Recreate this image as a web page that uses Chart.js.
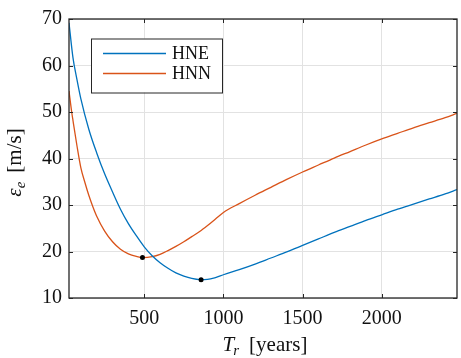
<!DOCTYPE html>
<html>
<head>
<meta charset="utf-8">
<script src="https://cdn.jsdelivr.net/npm/chart.js@4/dist/chart.umd.min.js"></script>
<style>
html,body{margin:0;padding:0;background:#fff;}
#wrap{width:461px;height:358px;}
</style>
</head>
<body>
<div id="wrap"><canvas id="c" width="461" height="358"></canvas></div>
<script>
// ---- data ----
const hneT = [25,50,75,100,150,200,250,300,350,400,450,500,550,600,650,700,750,800,850,900,950,1000,1100,1200,1300,1400,1500,1600,1700,1800,1900,2000,2100,2200,2300,2400,2475];
const hneE = [69.2,61.7,57.0,52.8,46.3,41.2,36.7,32.8,29.1,26.0,23.4,21.0,19.1,17.6,16.4,15.4,14.7,14.2,13.95,14.0,14.4,15.0,16.1,17.3,18.6,19.9,21.3,22.7,24.1,25.4,26.7,27.9,29.1,30.2,31.3,32.4,33.3];
const hnnT = [25,42,50,75,100,125,150,175,200,250,300,350,400,450,490,550,600,650,700,750,800,850,900,950,1000,1100,1200,1300,1400,1500,1600,1700,1800,1900,2000,2100,2200,2300,2400,2475];
const hnnE = [54.5,50.0,48.2,42.8,38.0,34.9,32.1,29.7,27.6,24.4,22.1,20.5,19.5,18.95,18.7,18.9,19.4,20.2,21.1,22.1,23.2,24.3,25.6,27.0,28.4,30.3,32.1,33.8,35.5,37.1,38.6,40.1,41.5,42.9,44.2,45.4,46.6,47.7,48.8,49.7];
const minT = [489, 859];
const minE = [18.7, 13.9];
const xTicks = [500, 1000, 1500, 2000];
const yTicks = [10, 20, 30, 40, 50, 60, 70];
const seriesNames = ['HNE', 'HNN'];

const BLUE = '#0072BD', ORANGE = '#D95319';
const SERIF = '"Liberation Serif", "DejaVu Serif", serif';
Chart.defaults.font.family = SERIF;

const zip = (a, b) => a.map((v, i) => ({x: v, y: b[i]}));

const framePlugin = {
  id: 'frame',
  afterDatasetsDraw(chart) {
    const ctx = chart.ctx, a = chart.chartArea;
    const xs = chart.scales.x, ys = chart.scales.y;
    ctx.save();
    // box
    ctx.strokeStyle = '#262626';
    ctx.lineWidth = 1.3;
    ctx.strokeRect(a.left, a.top, a.right - a.left, a.bottom - a.top);
    // inward ticks
    ctx.lineWidth = 1;
    const tl = 4;
    ctx.beginPath();
    xTicks.forEach(v => {
      const px = Math.round(xs.getPixelForValue(v)) + 0.5;
      ctx.moveTo(px, a.bottom); ctx.lineTo(px, a.bottom - tl);
      ctx.moveTo(px, a.top); ctx.lineTo(px, a.top + tl);
    });
    yTicks.forEach(v => {
      const py = Math.round(ys.getPixelForValue(v)) + 0.5;
      ctx.moveTo(a.left, py); ctx.lineTo(a.left + tl, py);
      ctx.moveTo(a.right, py); ctx.lineTo(a.right - tl, py);
    });
    ctx.stroke();

    // legend
    const lx = 91, ly = 38.5, lw = 131, lh = 54;
    ctx.fillStyle = '#fff';
    ctx.fillRect(lx, ly, lw, lh);
    ctx.strokeStyle = '#262626';
    ctx.lineWidth = 1;
    ctx.strokeRect(lx + 0.5, ly + 0.5, lw, lh);
    const rows = [[BLUE, 53.5], [ORANGE, 73.5]];
    ctx.font = '18px ' + SERIF;
    ctx.textBaseline = 'middle';
    ctx.textAlign = 'left';
    rows.forEach((r, i) => {
      ctx.strokeStyle = r[0];
      ctx.lineWidth = 1.3;
      ctx.beginPath();
      ctx.moveTo(103, r[1]); ctx.lineTo(166, r[1]);
      ctx.stroke();
      ctx.fillStyle = '#111';
      ctx.fillText(seriesNames[i], 172, r[1] + 1);
    });

    // x axis title: T_r [years]
    ctx.fillStyle = '#111';
    ctx.textBaseline = 'alphabetic';
    const cx = (a.left + a.right) / 2 + 2;
    const base = 351;
    const p1 = 'italic 21px ' + SERIF, p2 = 'italic 15px ' + SERIF, p3 = '21px ' + SERIF;
    ctx.font = p1; const w1 = ctx.measureText('T').width;
    ctx.font = p2; const w2 = ctx.measureText('r').width;
    ctx.font = p3; const w3 = ctx.measureText('[years]').width;
    const gap = 9;
    let x0 = cx - (w1 + w2 + gap + w3) / 2;
    ctx.font = p1; ctx.fillText('T', x0, base);
    ctx.font = p2; ctx.fillText('r', x0 + w1 - 1, base + 4);
    ctx.font = p3; ctx.fillText('[years]', x0 + w1 + w2 + gap, base);

    // y axis title: ε_e [m/s]
    ctx.save();
    const cy = (a.top + a.bottom) / 2 + 4;
    ctx.translate(21, cy);
    ctx.rotate(-Math.PI / 2);
    ctx.font = p1; const v1 = ctx.measureText('ε').width;
    ctx.font = p2; const v2 = ctx.measureText('e').width;
    ctx.font = p3; const v3 = ctx.measureText('[m/s]').width;
    let y0 = -(v1 + v2 + gap + v3) / 2;
    ctx.font = p1; ctx.fillText('ε', y0, 0);
    ctx.font = p2; ctx.fillText('e', y0 + v1, 4);
    ctx.font = p3; ctx.fillText('[m/s]', y0 + v1 + v2 + gap, 0);
    ctx.restore();

    ctx.restore();
  }
};

new Chart(document.getElementById('c'), {
  type: 'line',
  data: {
    datasets: [
      {label: 'HNE', data: zip(hneT, hneE), borderColor: BLUE, borderWidth: 1.3, pointRadius: 0, fill: false, cubicInterpolationMode: 'monotone', order: 2},
      {label: 'HNN', data: zip(hnnT, hnnE), borderColor: ORANGE, borderWidth: 1.3, pointRadius: 0, fill: false, cubicInterpolationMode: 'monotone', order: 2},
      {label: 'min', type: 'scatter', data: zip(minT, minE), pointRadius: 2.5, pointBackgroundColor: '#000', pointBorderWidth: 0, showLine: false, order: 1}
    ]
  },
  options: {
    responsive: false,
    animation: false,
    devicePixelRatio: 1,
    layout: {padding: {top: 17, right: 1, left: 0, bottom: 0}},
    plugins: {legend: {display: false}, tooltip: {enabled: false}},
    scales: {
      x: {
        type: 'linear', min: 25, max: 2475,
        afterBuildTicks: s => { s.ticks = xTicks.map(v => ({value: v})); },
        afterFit: s => { s.height = 60; },
        grid: {color: '#e2e2e2', lineWidth: 1, drawTicks: false},
        border: {display: false},
        ticks: {font: {family: SERIF, size: 20}, color: '#111', padding: 9, maxRotation: 0, callback: v => String(v)}
      },
      y: {
        min: 10, max: 70,
        afterBuildTicks: s => { s.ticks = yTicks.map(v => ({value: v})); },
        afterFit: s => { s.width = 69; },
        grid: {color: '#e2e2e2', lineWidth: 1, drawTicks: false},
        border: {display: false},
        ticks: {font: {family: SERIF, size: 20}, color: '#111', padding: 7, callback: v => String(v)}
      }
    }
  },
  plugins: [framePlugin]
});
</script>
</body>
</html>
